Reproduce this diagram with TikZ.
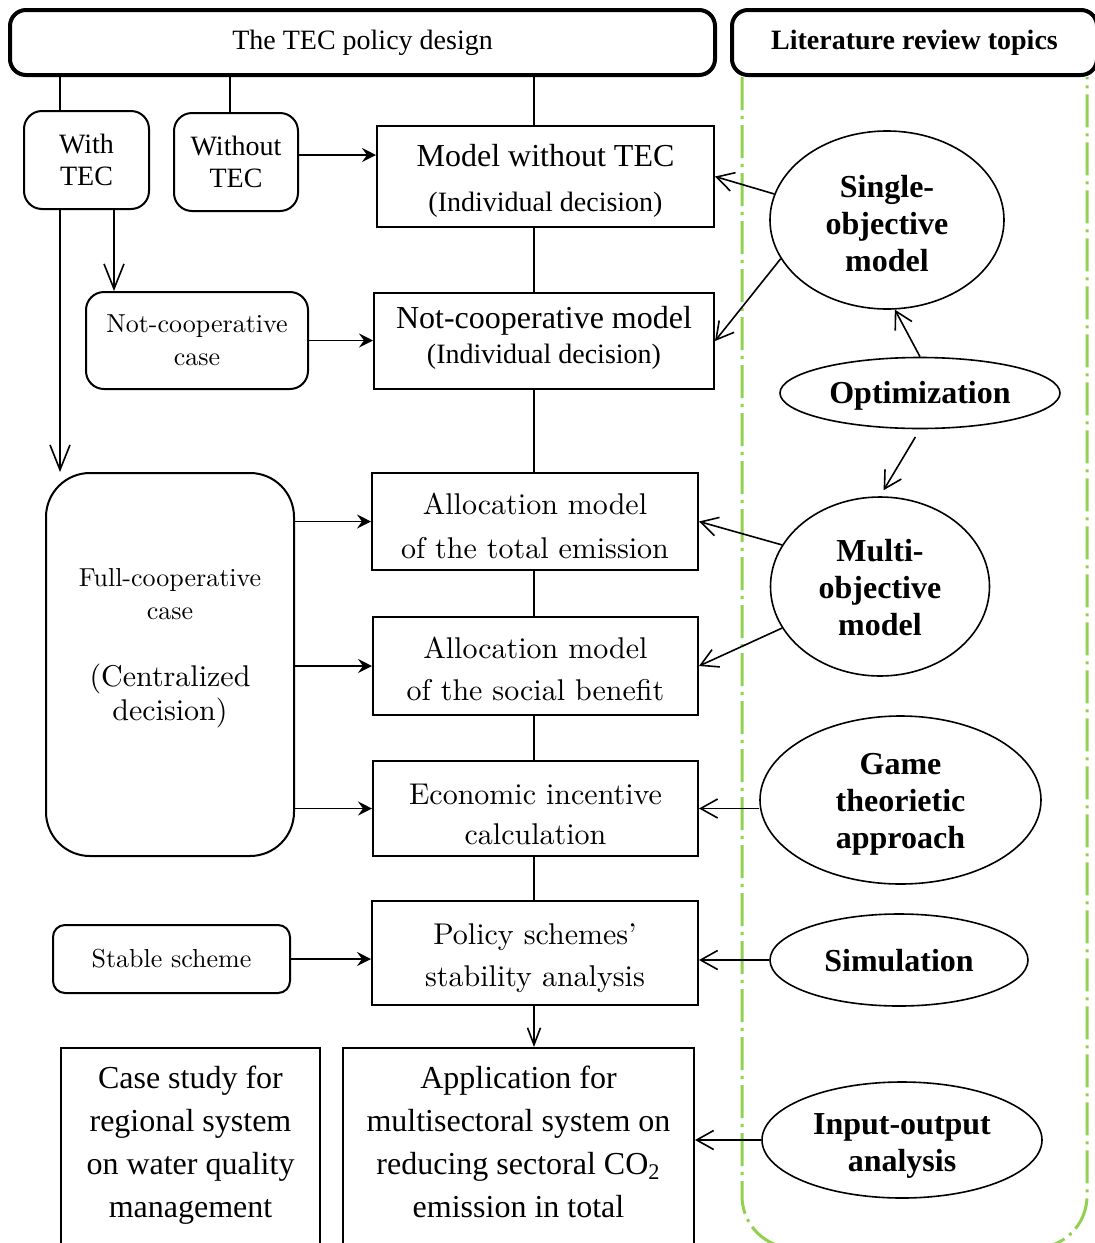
\documentclass[tikz,border=0pt]{standalone}
\usepackage{fontspec}
\newfontfamily\tnr{Liberation Serif}
\newfontfamily\lmten{lmroman10-regular.otf}[Ligatures=TeX]
\usetikzlibrary{arrows.meta,shapes.geometric}
\definecolor{litgreen}{HTML}{92D050}

\tikzset{
  rect/.style={draw, line width=1pt, rectangle, inner sep=0pt, align=center},
  rbox/.style={rect, rounded corners=9pt},
  head/.style={draw, line width=2pt, rounded corners=8pt, inner sep=0pt, align=center},
  oval/.style={draw, ellipse, line width=0.8pt, inner sep=0pt, align=center,
               font=\tnr\bfseries\fontsize{16}{18.5}\selectfont},
  ovaltxt/.style={align=center, inner sep=0pt, font=\tnr\bfseries\fontsize{16}{18.5}\selectfont},
  txt/.style={align=center, inner sep=0pt},
  tm/.style={font=\tnr\fontsize{16}{21.5}\selectfont},
  ts/.style={font=\tnr\fontsize{14}{16}\selectfont},
  lmb/.style={font=\lmten\fontsize{15}{#1}\selectfont},
  lms/.style={font=\lmten\fontsize{13}{16.5}\selectfont},
  link/.style={line width=0.8pt},
  fa/.style={link, -{Stealth[length=7pt,width=7pt,inset=2.5pt]}},
  oal/.style={link, -{Straight Barb[length=12.5pt,width=10pt]}},
  oas/.style={link, -{Straight Barb[length=8.5pt,width=6.5pt]}},
  oae/.style={link, -{Straight Barb[length=8.5pt,width=9.5pt]}},
  greenzone/.style={litgreen, line width=1.5pt,
                    dash pattern=on 16.5pt off 3pt on 1.5pt off 3pt},
}

\begin{document}
\begin{tikzpicture}[x=0.5pt,y=-0.5pt]
\useasboundingbox (0,0) rectangle (1095,1243);
\clip (0,0) rectangle (1095,1243);

% dash-dotted frame of the literature column
\draw[greenzone, rounded corners=26pt] (742,77) -- (742,1248) -- (1087,1248) -- (1087,77);

% headers
\node[head, minimum width=352.5pt, minimum height=32.5pt, ts] (top) at (362.5,42.5) {The TEC policy design};
\node[head, minimum width=182.5pt, minimum height=32.5pt,
      font=\tnr\bfseries\fontsize{14}{16}\selectfont] (lit) at (914.5,42.5) {Literature review topics};

% left column cases
\node[rbox, ts, minimum width=62.5pt, minimum height=49pt] (withtec) at (86.5,160) {With\\TEC};
\node[rbox, ts, minimum width=62pt, minimum height=49pt] (without) at (236,162) {Without\\TEC};
\node[rbox, lms, minimum width=111pt, minimum height=48.5pt] (ncc) at (197,340.5) {Not-cooperative\\case};
\node[rbox, rounded corners=22pt, minimum width=124pt, minimum height=191.5pt] (fcc) at (170,664.5) {};
\node[txt, lms] (fcca) at (170,594.5) {Full-cooperative\\case};
\node[txt, lmb=17] (fccb) at (170,696) {(Centralized\\decision)};
\node[rbox, rounded corners=6pt, lms, minimum width=118.5pt, minimum height=34pt] (ss) at (171.5,959) {Stable scheme};

% central models: frames and their captions
\node[rect, minimum width=168.5pt, minimum height=50.5pt] (mwt) at (545.5,176.5) {};
\node[txt, font=\tnr\fontsize{14}{22.5}\selectfont] (mwt-t) at (545.5,180.5)
  {{\fontsize{16}{22.5}\selectfont Model without TEC}\\(Individual decision)};
\node[rect, minimum width=170pt, minimum height=48pt] (ncm) at (544,341) {};
\node[txt, font=\tnr\fontsize{14}{17.5}\selectfont] (ncm-t) at (544,337.5)
  {{\fontsize{16}{17.5}\selectfont Not-cooperative model}\\(Individual decision)};
\node[rect, minimum width=163pt, minimum height=48.5pt] (amt) at (535,521.5) {};
\node[txt, lmb=22] (amt-t) at (535,525.5) {Allocation model\\of the total emission};
\node[rect, minimum width=162.5pt, minimum height=49pt] (ams) at (535.5,666) {};
\node[txt, lmb=21] (ams-t) at (535.5,669) {Allocation model\\of the social benefit};
\node[rect, minimum width=162.5pt, minimum height=47.5pt] (eic) at (535.5,808.5) {};
\node[txt, lmb=20] (eic-t) at (535.5,814) {Economic incentive\\calculation};
\node[rect, minimum width=163pt, minimum height=52pt] (pss) at (535,953) {};
\node[txt, lmb=21] (pss-t) at (535,958) {Policy schemes'\\stability analysis};

% applications
\node[rect, minimum width=129.5pt, minimum height=110pt, anchor=north] (cs) at (190.5,1047) {};
\node[txt, tm] (cs-t) at (190.5,1145) {Case study for\\regional system\\on water quality\\management};
\node[rect, minimum width=175.5pt, minimum height=110pt, anchor=north] (app) at (518.5,1047) {};
\node[txt, tm] (app-t) at (518.5,1142) {Application for\\multisectoral system on\\reducing sectoral CO\textsubscript{2}\\emission in total};

% literature topics
\node[oval, minimum width=117pt, minimum height=89pt] (so) at (887,220) {};
\node[ovaltxt] (so-t) at (887,224) {Single-\\objective\\model};
\node[oval, minimum width=140pt, minimum height=35.5pt] (opt) at (920,393) {};
\node[ovaltxt] (opt-t) at (920,396) {Optimization};
\node[oval, minimum width=109.5pt, minimum height=89.5pt] (mo) at (880,586.5) {};
\node[ovaltxt] (mo-t) at (880,587.5) {Multi-\\objective\\model};
\node[oval, minimum width=140.5pt, minimum height=84pt] (gt) at (900.5,800) {};
\node[ovaltxt] (gt-t) at (900.5,804) {Game\\theorietic\\approach};
\node[oval, minimum width=129pt, minimum height=46pt] (sim) at (899,960) {};
\node[ovaltxt] (sim-t) at (899,961) {Simulation};
\node[oval, minimum width=140pt, minimum height=58pt] (io) at (902,1140) {};
\node[ovaltxt] (io-t) at (902,1146) {Input-output\\analysis};

% guide coordinates for vertical runs
\coordinate (c60) at (60,0);
\coordinate (c114) at (114,0);
\coordinate (c230) at (230,0);
\coordinate (spine) at (534,0);
\coordinate (y155) at (0,155);

% connectors from the policy design
\draw[link] (c60 |- top.south) -- (c60 |- withtec.north);
\draw[link] (c230 |- top.south) -- (c230 |- without.north);
\draw[link] (spine |- top.south) -- (spine |- mwt.north);
\draw[oal] (c60 |- withtec.south) -- (c60 |- fcc.north);
\draw[oal] (c114 |- withtec.south) -- (c114 |- ncc.north);
\draw[fa] (without.east |- y155) -- (mwt.west |- y155);
\draw[fa] (ncc.east) -- (ncc.east -| ncm.west);
\draw[fa] (fcc.east |- amt) -- (amt.west);
\draw[fa] (fcc.east |- ams) -- (ams.west);
\draw[fa] (fcc.east |- eic) -- (eic.west);
\draw[fa] (ss.east) -- (ss.east -| pss.west);

% central spine
\draw[link] (spine |- mwt.south) -- (spine |- ncm.north);
\draw[link] (spine |- ncm.south) -- (spine |- amt.north);
\draw[link] (spine |- amt.south) -- (spine |- ams.north);
\draw[link] (spine |- ams.south) -- (spine |- eic.north);
\draw[link] (spine |- eic.south) -- (spine |- pss.north);
\draw[oas] (spine |- pss.south) -- (spine |- app.north);

% literature links
\draw[oae] (so.167) -- (mwt.east);
\draw[oae] (so.200) -- (ncm.east);
\draw[oae] (opt.north) -- (so.275);
\draw[oae, shorten <=4.5pt, shorten >=3.5pt] (opt.south) -- (mo.north);
\draw[oae] (mo.157) -- (amt.east);
\draw[oae] (mo.203) -- (ams.east);
\draw[oae] (gt.west |- eic) -- (eic.east);
\draw[oae] (sim.west) -- (sim.west -| pss.east);
\draw[oae] (io.west) -- (io.west -| app.east);
\end{tikzpicture}
\end{document}
